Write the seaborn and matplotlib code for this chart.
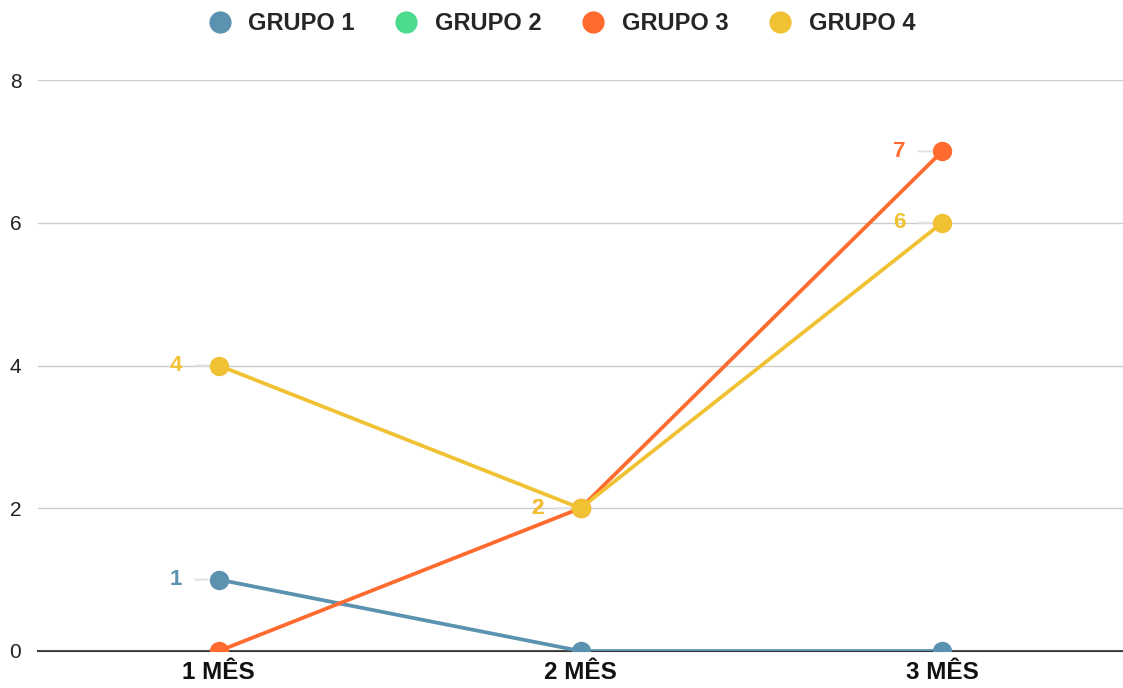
import numpy as np
import pandas as pd
import matplotlib
matplotlib.use("Agg")
import matplotlib.pyplot as plt
from matplotlib.lines import Line2D
import seaborn as sns

# --- Dados ---
MESES = ["1 MÊS", "2 MÊS", "3 MÊS"]
GRUPOS = ["GRUPO 1", "GRUPO 2", "GRUPO 3", "GRUPO 4"]
GRUPO_1 = [1, 0, 0]
GRUPO_2 = [np.nan, np.nan, np.nan]
GRUPO_3 = [0, 2, 7]
GRUPO_4 = [4, 2, 6]
CORES = ["#5B92B0", "#4CDB8C", "#FF6B2E", "#F0C233"]

valores = {"GRUPO 1": GRUPO_1, "GRUPO 2": GRUPO_2, "GRUPO 3": GRUPO_3, "GRUPO 4": GRUPO_4}
linhas = []
for g in GRUPOS:
    for m, v in zip(MESES, valores[g]):
        linhas.append({"mes": m, "grupo": g, "valor": v})
df = pd.DataFrame(linhas)

# --- Tema ---
sns.set_theme(style="white")
plt.rcParams["font.family"] = ["Liberation Sans", "DejaVu Sans"]

fig = plt.figure(figsize=(11.23, 6.88), dpi=100)
ax = fig.add_axes([38 / 1123, 37 / 688, 1 - 38 / 1123, 571 / 688])

paleta = dict(zip(GRUPOS, CORES))
for g in GRUPOS:
    sub = df[df["grupo"] == g].dropna()
    if sub.empty:
        continue
    sns.lineplot(data=sub, x="mes", y="valor", color=paleta[g], marker="o",
                 markersize=14, markeredgewidth=0, linewidth=2.7, ax=ax,
                 sort=False, legend=False)
for ln in ax.get_lines():
    ln.set_clip_on(True)

# rótulos de dados (apenas valores não nulos)
for g in GRUPOS:
    for i, v in enumerate(valores[g]):
        if np.isnan(v) or v == 0:
            continue
        ax.annotate(str(int(v)), xy=(i, v), xytext=(-31, 0), textcoords="offset points",
                    ha="center", va="center", fontsize=16, fontweight="bold",
                    color=paleta[g], zorder=1,
                    arrowprops=dict(arrowstyle="-", color="#e3e3e3", lw=1.5,
                                    shrinkA=7, shrinkB=8))

ax.set_xlim(-0.5, 2.5)
ax.set_ylim(0, 8)
ax.set_yticks([0, 2, 4, 6, 8])
ax.set_xticks(range(len(MESES)))
ax.set_xticklabels(MESES)
ax.yaxis.grid(True, color="#cccccc", linewidth=1)
ax.set_axisbelow(True)
for s in ["top", "right", "left"]:
    ax.spines[s].set_visible(False)
ax.spines["bottom"].set_color("#333333")
ax.spines["bottom"].set_linewidth(1.5)
ax.spines["bottom"].set_zorder(0.5)
ax.tick_params(axis="y", length=0, pad=12, labelsize=15, labelcolor="#222222")
ax.tick_params(axis="x", length=0, pad=7, labelsize=17.5, labelcolor="#111111")
for t in ax.get_xticklabels():
    t.set_fontweight("bold")
ax.set_xlabel("")
ax.set_ylabel("")

handles = [Line2D([], [], linestyle="none", marker="o", markersize=16,
                  markerfacecolor=c, markeredgewidth=0) for c in CORES]
fig.legend(handles, GRUPOS, loc="upper center", bbox_to_anchor=(0.5, 1.013),
           ncol=4, frameon=False, prop={"weight": "bold", "size": 17},
           handletextpad=0.7, columnspacing=1.7, handlelength=1.0)

fig.savefig("out.png", dpi=100)
